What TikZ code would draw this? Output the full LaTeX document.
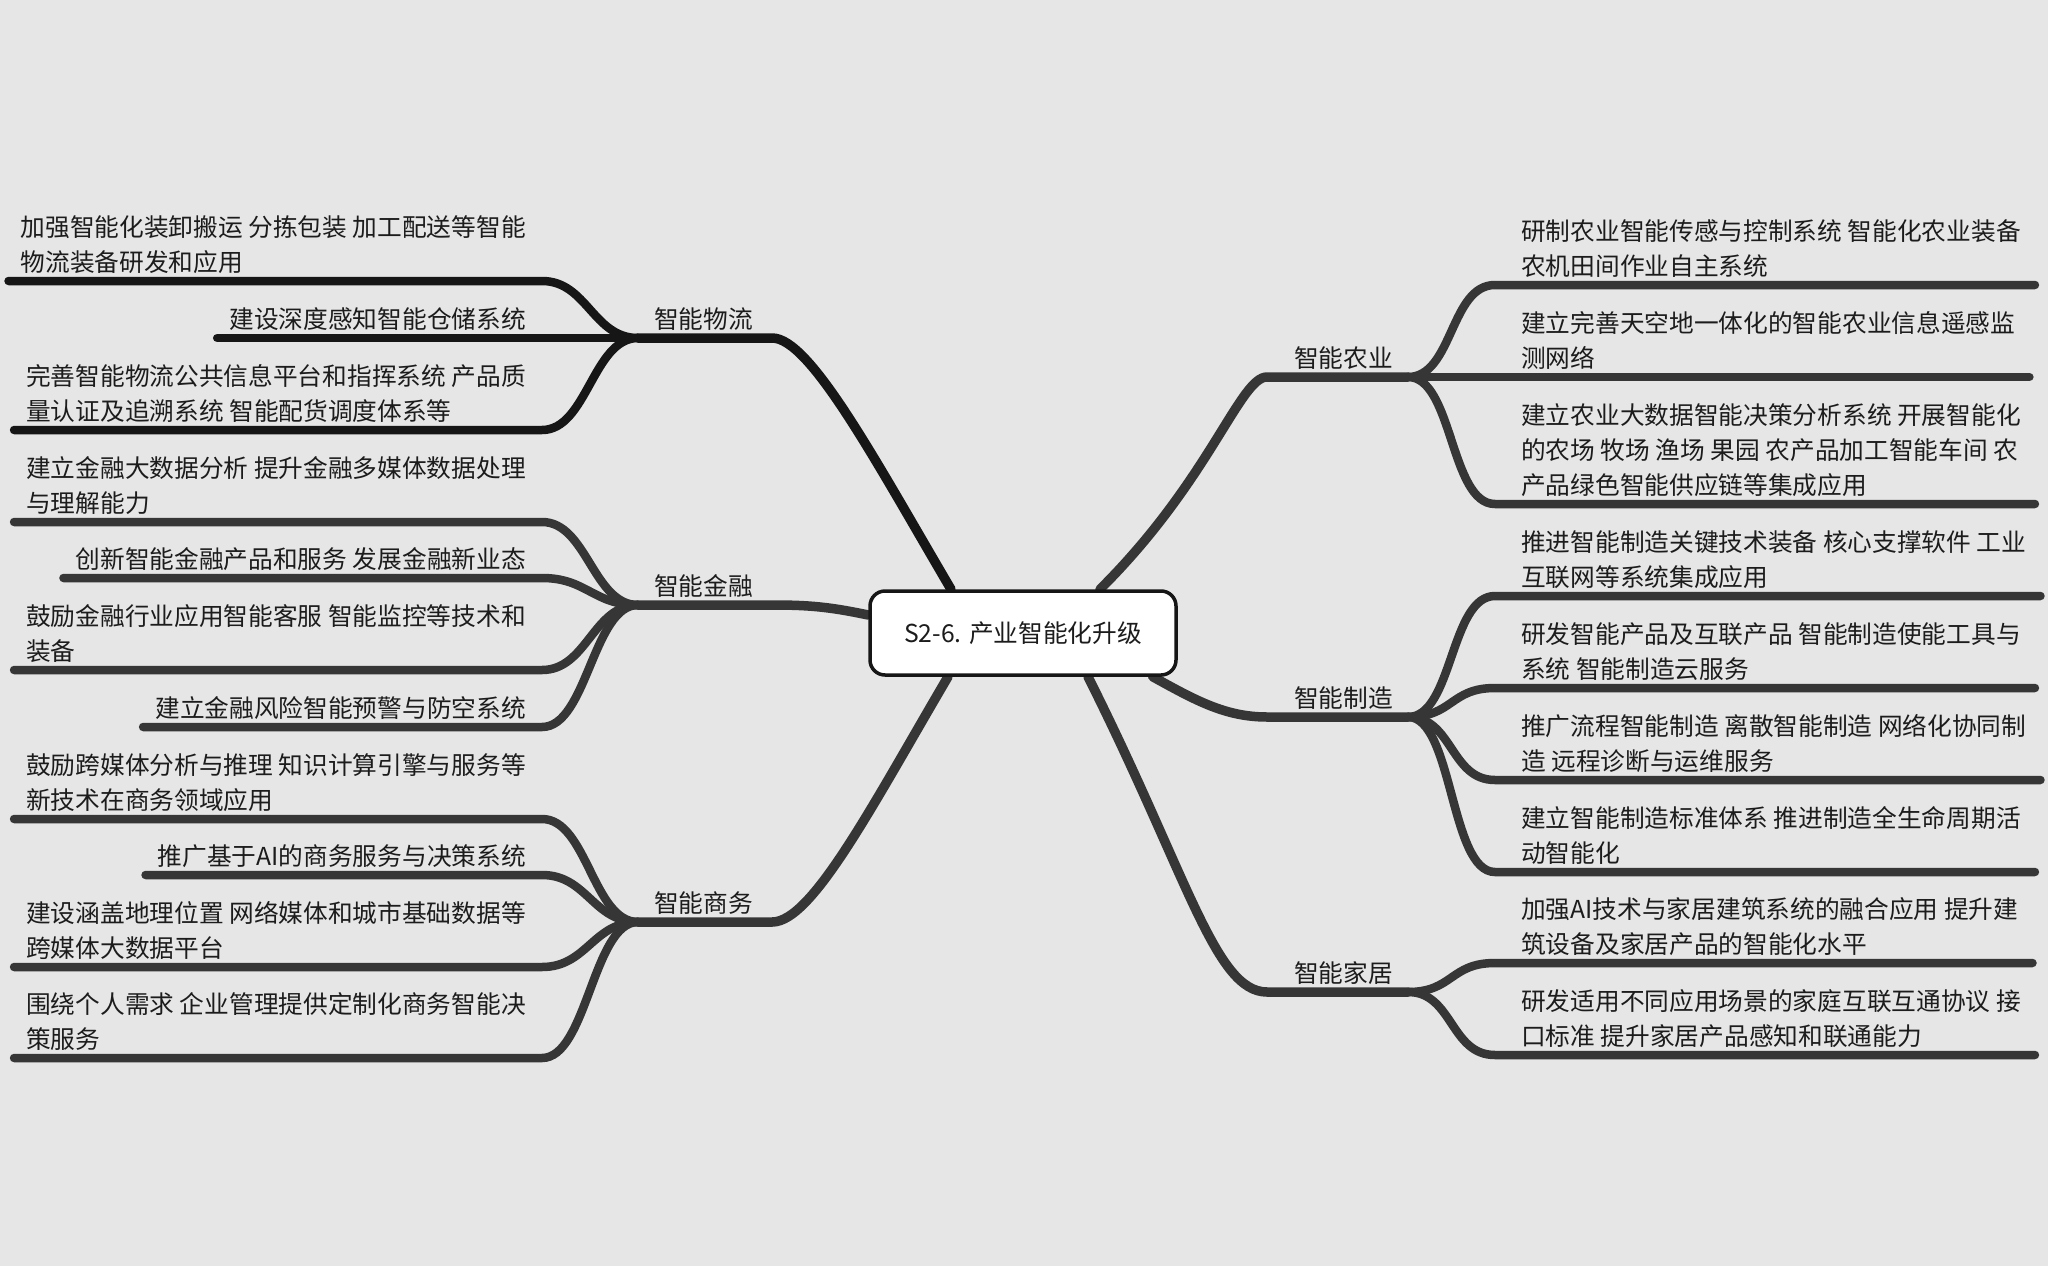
\documentclass[tikz,border=0pt]{standalone}
\usepackage{fontspec}
\setmainfont{Noto Sans CJK SC}
\usetikzlibrary{positioning}
\definecolor{paper}{HTML}{E6E6E6}
\definecolor{inkA}{HTML}{161616}
\definecolor{inkB}{HTML}{363636}
\definecolor{txt}{HTML}{1C1C1C}
\pgfdeclarelayer{back}
\pgfsetlayers{back,main}

\begin{document}
\begin{tikzpicture}[x=1pt,y=-1pt,
		every node/.style={font=\fontsize{24.7}{35}\selectfont,text=txt,inner sep=0pt},
		strutted/.style={execute at end node={\rule[-6pt]{0pt}{0pt}}},
		core/.style={draw=inkA,line width=3.5pt,fill=white,rounded corners=15pt,minimum width=306pt,minimum height=84pt},
		topic/.style={strutted,anchor=south west,yshift=3pt},
		leafL/.style={strutted,anchor=south east,yshift=3pt,align=left},
		leafR/.style={strutted,anchor=south west,yshift=3pt,align=left},
		bough/.style={line width=9.5pt,line cap=round},
		twig/.style={line width=8.5pt,line cap=round}]

			\node[core] (core) at (1023,633) {S2-6. 产业智能化升级};

			\coordinate (jwl) at (638,338);
			\coordinate (jjr) at (638,605);
			\coordinate (jsw) at (638,922);
			\coordinate (jny) at (1408,377);
			\coordinate (jzz) at (1408,717);
			\coordinate (jjj) at (1408,992);

			\node[topic] (twl) at ([xshift=16pt]jwl) {智能物流};
			\node[topic] (tjr) at ([xshift=16pt]jjr) {智能金融};
			\node[topic] (tsw) at ([xshift=16pt]jsw) {智能商务};
			\node[topic] (tny) at ([xshift=-114pt]jny) {智能农业};
			\node[topic] (tzz) at ([xshift=-114pt]jzz) {智能制造};
			\node[topic] (tjj) at ([xshift=-114pt]jjj) {智能家居};

			\node[leafL] (wl1) at (526,281) {加强智能化装卸搬运 分拣包装 加工配送等智能\\物流装备研发和应用};
			\node[leafL] (wl2) at (526,338) {建设深度感知智能仓储系统};
			\node[leafL] (wl3) at (526,430) {完善智能物流公共信息平台和指挥系统 产品质\\量认证及追溯系统 智能配货调度体系等};

			\node[leafL] (jr1) at (526,522) {建立金融大数据分析 提升金融多媒体数据处理\\与理解能力};
			\node[leafL] (jr2) at (526,578) {创新智能金融产品和服务 发展金融新业态};
			\node[leafL] (jr3) at (526,670) {鼓励金融行业应用智能客服 智能监控等技术和\\装备};
			\node[leafL] (jr4) at (526,727) {建立金融风险智能预警与防空系统};

			\node[leafL] (sw1) at (526,819) {鼓励跨媒体分析与推理 知识计算引擎与服务等\\新技术在商务领域应用};
			\node[leafL] (sw2) at (526,875) {推广基于AI的商务服务与决策系统};
			\node[leafL] (sw3) at (526,967) {建设涵盖地理位置 网络媒体和城市基础数据等\\跨媒体大数据平台};
			\node[leafL] (sw4) at (526,1058) {围绕个人需求 企业管理提供定制化商务智能决\\策服务};

			\node[leafR] (ny1) at (1521,285) {研制农业智能传感与控制系统 智能化农业装备\\农机田间作业自主系统};
			\node[leafR] (ny2) at (1521,377) {建立完善天空地一体化的智能农业信息遥感监\\测网络};
			\node[leafR] (ny3) at (1521,504) {建立农业大数据智能决策分析系统 开展智能化\\的农场 牧场 渔场 果园 农产品加工智能车间 农\\产品绿色智能供应链等集成应用};

			\node[leafR] (zz1) at (1521,596) {推进智能制造关键技术装备 核心支撑软件 工业\\互联网等系统集成应用};
			\node[leafR] (zz2) at (1521,688) {研发智能产品及互联产品 智能制造使能工具与\\系统 智能制造云服务};
			\node[leafR] (zz3) at (1521,780) {推广流程智能制造 离散智能制造 网络化协同制\\造 远程诊断与运维服务};
			\node[leafR] (zz4) at (1521,872) {建立智能制造标准体系 推进制造全生命周期活\\动智能化};

			\node[leafR] (jj1) at (1521,963) {加强AI技术与家居建筑系统的融合应用 提升建\\筑设备及家居产品的智能化水平};
			\node[leafR] (jj2) at (1521,1055) {研发适用不同应用场景的家庭互联互通协议 接\\口标准 提升家居产品感知和联通能力};

			\begin{pgfonlayer}{back}
				\fill[paper] (0,0) rectangle (2048,1266);

				\draw[bough,inkA] ([xshift=-72pt]core.north) .. controls (875,460) and (810,338) .. ([xshift=19pt,yshift=-3pt]twl.south east) -- (jwl);
				\draw[bough,inkB] ([yshift=18pt]core.west) .. controls (830,607) and (810,605) .. ([xshift=19pt,yshift=-3pt]tjr.south east) -- (jjr);
				\draw[bough,inkB] ([xshift=-75pt]core.south) .. controls (872,806) and (812,922) .. ([xshift=19pt,yshift=-3pt]tsw.south east) -- (jsw);
				\draw[bough,inkB] ([xshift=77pt]core.north) .. controls (1210,480) and (1240,377) .. ([xshift=-27pt,yshift=-3pt]tny.south west) -- (jny);
				\draw[bough,inkB] ([xshift=-25pt]core.south east) .. controls (1195,700) and (1225,717) .. ([xshift=-27pt,yshift=-3pt]tzz.south west) -- (jzz);
				\draw[bough,inkB] ([xshift=65pt]core.south) .. controls (1188,876) and (1215,992) .. ([xshift=-27pt,yshift=-3pt]tjj.south west) -- (jjj);

				\foreach \l in {wl1,wl2,wl3}
					\draw[twig,inkA] (jwl) .. controls +(-45,0) and +(45,0) .. ([xshift=16pt,yshift=-3pt]\l.south east) -- ([xshift=-12pt,yshift=-3pt]\l.south west);
				\foreach \l in {jr1,jr2,jr3,jr4}
					\draw[twig,inkB] (jjr) .. controls +(-45,0) and +(45,0) .. ([xshift=16pt,yshift=-3pt]\l.south east) -- ([xshift=-12pt,yshift=-3pt]\l.south west);
				\foreach \l in {sw1,sw2,sw3,sw4}
					\draw[twig,inkB] (jsw) .. controls +(-45,0) and +(45,0) .. ([xshift=16pt,yshift=-3pt]\l.south east) -- ([xshift=-12pt,yshift=-3pt]\l.south west);
				\foreach \l in {ny1,ny2,ny3}
					\draw[twig,inkB] (jny) .. controls +(45,0) and +(-45,0) .. ([xshift=-26pt,yshift=-3pt]\l.south west) -- ([xshift=14pt,yshift=-3pt]\l.south east);
				\foreach \l in {zz1,zz2,zz3,zz4}
					\draw[twig,inkB] (jzz) .. controls +(45,0) and +(-45,0) .. ([xshift=-26pt,yshift=-3pt]\l.south west) -- ([xshift=14pt,yshift=-3pt]\l.south east);
				\foreach \l in {jj1,jj2}
					\draw[twig,inkB] (jjj) .. controls +(45,0) and +(-45,0) .. ([xshift=-26pt,yshift=-3pt]\l.south west) -- ([xshift=14pt,yshift=-3pt]\l.south east);
			\end{pgfonlayer}
		\end{tikzpicture}
\end{document}
